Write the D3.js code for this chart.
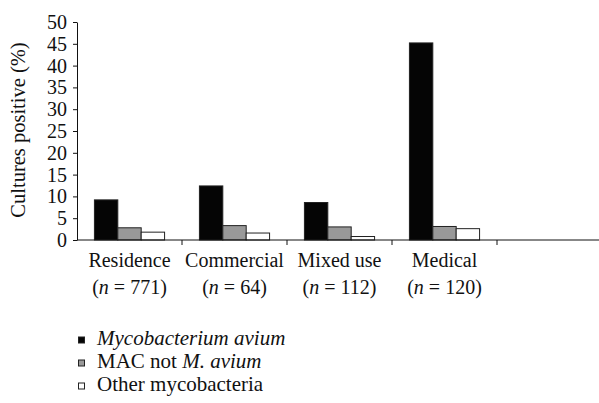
<!DOCTYPE html>
<html>
<head>
<meta charset="utf-8">
<script src="https://cdn.jsdelivr.net/npm/d3@7"></script>
<style>
  body { margin: 0; background: #fff; }
  svg { display: block; }
  svg text { font-family: "Liberation Serif", "DejaVu Serif"; fill: #111; }
</style>
</head>
<body>
<svg class="chartSVG" width="599" height="403"></svg>
<script>
// data
const categories = ["Residence", "Commercial", "Mixed use", "Medical", ""]
const counts = ["771", "64", "112", "120", null]
const seriesNames = ["avium", "macOther", "otherMyco"]
const avium = [9.2, 12.4, 8.6, 45.2]
const macOther = [2.8, 3.3, 3.0, 3.1]
const otherMyco = [1.8, 1.6, 0.8, 2.6]
const yTicks = [0, 5, 10, 15, 20, 25, 30, 35, 40, 45, 50]

const values = { avium, macOther, otherMyco }
const fills = { avium: "#050505", macOther: "#999999", otherMyco: "#ffffff" }

const svg = d3.select(".chartSVG")
const config = { left: 77, right: 602, top: 22, bottom: 240 }

const x = d3.scaleBand()
  .domain(categories.map((d, i) => i))
  .range([config.left, config.right])
  .padding(0)

const xInner = d3.scaleBand()
  .domain(seriesNames)
  .range([0, x.bandwidth()])
  .paddingInner(0)
  .paddingOuter(0.745)

const y = d3.scaleLinear()
  .domain([0, 50])
  .range([config.bottom, config.top])

// bars
const groups = svg.append("g")
  .selectAll("g")
  .data(categories.slice(0, 4))
  .join("g")
  .attr("transform", (d, i) => `translate(${x(i)},0)`)

groups.selectAll("rect")
  .data((d, i) => seriesNames.map(s => ({ s, v: values[s][i] })))
  .join("rect")
  .attr("x", d => xInner(d.s))
  .attr("y", d => y(d.v))
  .attr("width", xInner.bandwidth())
  .attr("height", d => y(0) - y(d.v))
  .attr("fill", d => fills[d.s])
  .attr("stroke", "#222")
  .attr("stroke-width", 1)

// y axis
const yAxis = svg.append("g")
  .attr("transform", `translate(${config.left},0)`)
  .call(d3.axisLeft(y).tickValues(yTicks).tickSize(4).tickSizeOuter(0).tickPadding(6))
yAxis.attr("font-family", null)
yAxis.select(".domain").attr("stroke", "#111")
yAxis.selectAll(".tick line").attr("stroke", "#111")
yAxis.selectAll(".tick text")
  .attr("font-size", 20)
  .attr("fill", "#111")

// x axis line + boundary ticks
svg.append("line")
  .attr("x1", config.left).attr("x2", 599)
  .attr("y1", y(0)).attr("y2", y(0))
  .attr("stroke", "#111")
svg.append("g").selectAll("line")
  .data(categories.map((d, i) => i).slice(1))
  .join("line")
  .attr("x1", d => x(d)).attr("x2", d => x(d))
  .attr("y1", y(0)).attr("y2", y(0) + 5)
  .attr("stroke", "#111")

// category labels
const labels = svg.append("g")
  .selectAll("text")
  .data(categories.slice(0, 4))
  .join("text")
  .attr("text-anchor", "middle")
  .attr("font-size", 20)
  .attr("x", (d, i) => x(i) + x.bandwidth() / 2)

labels.append("tspan")
  .attr("x", (d, i) => x(i) + x.bandwidth() / 2)
  .attr("y", 267)
  .text(d => d)

const nLine = labels.append("tspan")
  .attr("x", (d, i) => x(i) + x.bandwidth() / 2)
  .attr("y", 294)
nLine.append("tspan").text("(")
nLine.append("tspan").attr("font-style", "italic").text("n")
nLine.append("tspan").text((d, i) => " = " + counts[i] + ")")

// y axis title
svg.append("text")
  .attr("transform", "translate(25,130) rotate(-90)")
  .attr("text-anchor", "middle")
  .attr("font-size", 20.5)
  .text("Cultures positive (%)")

// legend
const legendY = d3.scalePoint()
  .domain(seriesNames)
  .range([340, 386])

const legend = svg.append("g")
  .selectAll("g")
  .data(seriesNames)
  .join("g")
  .attr("transform", d => `translate(0,${legendY(d)})`)

legend.append("rect")
  .attr("x", 78.5).attr("y", -3)
  .attr("width", 6).attr("height", 6)
  .attr("fill", d => fills[d])
  .attr("stroke", "#222")
  .attr("stroke-width", 1)

const legText = legend.append("text")
  .attr("x", 97)
  .attr("y", 5)
  .attr("font-size", 21)

legText.filter(d => d == "avium").append("tspan")
  .attr("font-style", "italic").text("Mycobacterium avium")
const mac = legText.filter(d => d == "macOther")
mac.append("tspan").text("MAC not ")
mac.append("tspan").attr("font-style", "italic").text("M. avium")
legText.filter(d => d == "otherMyco").append("tspan").text("Other mycobacteria")
</script>
</body>
</html>
